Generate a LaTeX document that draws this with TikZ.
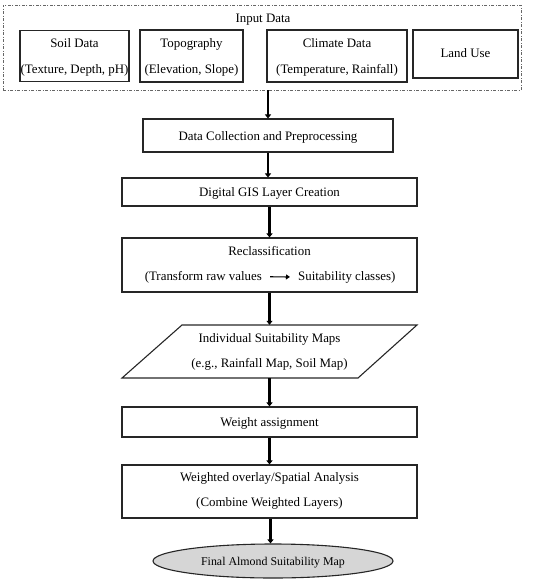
\documentclass[tikz,border=0pt]{standalone}
\usepackage{fontspec}
\setmainfont{Liberation Serif}
\usetikzlibrary{arrows.meta,shapes.geometric}
\begin{document}
\begin{tikzpicture}[x=1pt,y=-1pt,
  font=\fontsize{12.9}{15}\selectfont,
  box/.style={draw=black!85,line width=1.1pt,inner sep=0pt},
  txt/.style={inner sep=0pt,anchor=base},
  flow/.style={line width=2.4pt,-{Triangle[length=4pt,width=6pt]}},
]
\useasboundingbox (0,0) rectangle (550,584);
% outer dash-dot frame
\node[draw=black!60,line width=0.6pt,dash pattern=on 3pt off 1.5pt on 1pt off 1.5pt,
  minimum width=518pt,minimum height=85pt,inner sep=0pt] (input) at (262,47.5) {};
\node[txt] (inlabel) at (263,22) {Input Data};
% input boxes
\node[box,minimum width=109pt,minimum height=51pt] (soil) at (74.5,56) {};
\node[txt] (soilA) at (74.5,47.5) {Soil Data};
\node[txt] (soilB) at (74.5,73.5) {(Texture, Depth, pH)};
\node[box,minimum width=103pt,minimum height=52pt] (topo) at (191.5,56) {};
\node[txt] (topoA) at (191.5,47.5) {Topography};
\node[txt] (topoB) at (191.5,73.5) {(Elevation, Slope)};
\node[box,minimum width=140pt,minimum height=52pt] (clim) at (337,56) {};
\node[txt] (climA) at (337,47.5) {Climate Data};
\node[txt] (climB) at (337,73.5) {(Temperature, Rainfall)};
\node[box,minimum width=105pt,minimum height=48pt] (land) at (465.5,54) {};
\node[txt] (landA) at (465.5,57.5) {Land Use};
% main flow
\node[box,minimum width=250pt,minimum height=33pt] (collect) at (268,135.5) {};
\node[txt] (collectT) at (268,140) {Data Collection and Preprocessing};
\node[box,minimum width=295pt,minimum height=28pt] (gis) at (269.5,192) {};
\node[txt] (gisT) at (269.5,196.5) {Digital GIS Layer Creation};
\node[box,minimum width=295pt,minimum height=54pt] (recl) at (269.5,265) {};
\node[txt] (reclT) at (269.5,255) {Reclassification};
\node[txt,anchor=base east] (reclA) at (262,280) {(Transform raw values};
\node[txt,anchor=base west] (reclB) at (298,280) {Suitability classes)};
\draw[line width=1.2pt,-{Triangle[length=4pt,width=5pt]}] ([xshift=8pt]reclA.east) -- ([xshift=-8pt]reclB.west);
\draw[box] (182,325) coordinate (p1) -- (417,325) -- (358,378) -- (122,378) -- cycle;
\node[inner sep=0pt,minimum width=236pt,minimum height=53pt] (maps) at (269.5,351.5) {};
\node[txt] (mapsA) at (269.5,342.5) {Individual Suitability Maps};
\node[txt] (mapsB) at (269.5,367.5) {(e.g., Rainfall Map, Soil Map)};
\node[box,minimum width=295pt,minimum height=30pt] (weight) at (269.5,422) {};
\node[txt] (weightT) at (269.5,426.5) {Weight assignment};
\node[box,minimum width=295pt,minimum height=53pt] (overlay) at (269.5,491.5) {};
\node[txt] (overA) at (269.5,481.5) {Weighted overlay/Spatial Analysis};
\node[txt] (overB) at (269.5,506.5) {(Combine Weighted Layers)};
\node[box,ellipse,fill=black!16,minimum width=240pt,minimum height=34pt] (final) at (273,561) {};
\node[txt,font=\fontsize{11.9}{14}\selectfont] (finalT) at (273,565.5) {Final Almond Suitability Map};
% arrows
\draw[flow] (input.south -| collect.north) -- (collect.north);
\draw[flow] (collect.south) -- (collect.south |- gis.north);
\draw[flow] (gis.south) -- (recl.north);
\draw[flow] (recl.south) -- (maps.north);
\draw[flow] (maps.south) -- (weight.north);
\draw[flow] (weight.south) -- (overlay.north);
\draw[flow] ([xshift=1pt]overlay.south) -- ([xshift=1pt]overlay.south |- final.north);
\end{tikzpicture}
\end{document}
